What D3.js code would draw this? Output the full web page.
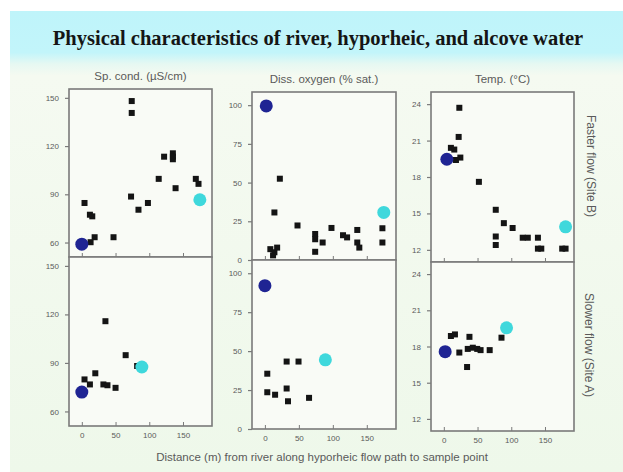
<!DOCTYPE html>
<html><head><meta charset="utf-8">
<script src="https://cdn.jsdelivr.net/npm/d3@7"></script>
<style>body{margin:0;background:#fff;}svg{display:block;}</style>
</head><body>
<svg id="c" width="623" height="472"></svg>
<script>
// ---- data ----
const title = "Physical characteristics of river, hyporheic, and alcove water";
const columnTitles = ["Sp. cond. (\u00b5S/cm)", "Diss. oxygen (% sat.)", "Temp. (\u00b0C)"];
const rowLabels = ["Faster flow (Site B)", "Slower flow (Site A)"];
const xTitle = "Distance (m) from river along hyporheic flow path to sample point";
const xTicks = [0, 50, 100, 150];
const yTicksCond = [60, 90, 120, 150];
const yTicksDO = [0, 25, 50, 75, 100];
const yTicksTemp = [12, 15, 18, 21, 24];

// Specific conductance, Site B (faster flow)
const condB_x = [13, 19, 47, 4, 12, 15.5, 74, 74, 73, 84, 98, 114, 122, 135, 135, 135, 139, 169, 173];
const condB_y = [60.2, 63.3, 63.3, 84.6, 77.3, 76.3, 148, 140.6, 88.6, 80.4, 84.6, 99.6, 113.4, 115.5, 113.4, 111.8, 93.8, 99.6, 96.5];
const condB_river = [0, 59];
const condB_alcove = [175, 86.6];
// Specific conductance, Site A (slower flow)
const condA_x = [4, 12, 20, 35, 32, 38, 50, 65, 82];
const condA_y = [79.8, 76.7, 83.6, 115.8, 76.7, 76.2, 74.6, 94.8, 88.1];
const condA_river = [0, 72];
const condA_alcove = [89, 87.5];
// Dissolved oxygen, Site B
const doB_x = [22, 14, 8, 14, 18, 12, 48, 74, 74, 85, 74, 98, 115, 121, 136, 136, 139, 173, 173];
const doB_y = [52.5, 30.7, 7, 5, 8, 3, 22.3, 16.8, 13.4, 11.3, 5.3, 20.7, 16, 14.6, 19.4, 11.3, 8, 20.5, 11.3];
const doB_river = [2, 99.5];
const doB_alcove = [175, 30.7];
// Dissolved oxygen, Site A
const doA_x = [3.5, 3.5, 15, 32, 49.5, 32, 34, 65];
const doA_y = [35.5, 23.6, 22, 43.3, 43.3, 26, 17.8, 20];
const doA_river = [0, 92];
const doA_alcove = [89, 44.4];
// Temperature, Site B
const tB_x = [10.5, 15.5, 18, 24.5, 22, 23, 52, 77, 77, 77, 89, 102, 117, 124.5, 139.5, 139.5, 144.5, 175.5, 180.5];
const tB_y = [20.4, 20.26, 19.4, 19.6, 21.3, 23.7, 17.6, 15.3, 13.1, 12.4, 14.2, 13.8, 13.0, 13.0, 13.0, 12.1, 12.1, 12.1, 12.1];
const tB_river = [4.5, 19.46];
const tB_alcove = [180.5, 13.9];
// Temperature, Site A
const tA_x = [10.5, 16.5, 23, 34.5, 38, 35.5, 43, 49.5, 54.5, 68, 85.5];
const tA_y = [18.87, 19.0, 17.5, 16.3, 18.8, 17.8, 17.9, 17.8, 17.7, 17.7, 18.73];
const tA_river = [2, 17.57];
const tA_alcove = [93, 19.55];

// ---- layout ----
const svg = d3.select("#c");
const defs = svg.append("defs");
const grad = defs.append("linearGradient").attr("id","bg").attr("x1",0).attr("y1",0).attr("x2",0).attr("y2",1);
grad.append("stop").attr("offset","0%").attr("stop-color","#bff4fa");
grad.append("stop").attr("offset","9%").attr("stop-color","#c2f5fa");
grad.append("stop").attr("offset","11.5%").attr("stop-color","#e6f8f2");
grad.append("stop").attr("offset","14%").attr("stop-color","#f5faf1");
grad.append("stop").attr("offset","100%").attr("stop-color","#eef8ea");
svg.append("rect").attr("x",10).attr("y",11).attr("width",613).attr("height",461).attr("fill","url(#bg)");

svg.append("text").attr("x",318).attr("y",45).attr("text-anchor","middle")
  .attr("font-family","'Liberation Serif','DejaVu Serif',serif").attr("font-weight","bold")
  .attr("font-size",20.5).attr("fill","#151515").text(title);

const cols = [
  {x0:69, x1:212, rows:[89,257,426], ticks:yTicksCond, ydom:[51,155.5],
   panels:[[condB_x,condB_y,condB_river,condB_alcove],[condA_x,condA_y,condA_river,condA_alcove]]},
  {x0:252, x1:396, rows:[92,260,429], ticks:yTicksDO, ydom:[0,108.5],
   panels:[[doB_x,doB_y,doB_river,doB_alcove],[doA_x,doA_y,doA_river,doA_alcove]]},
  {x0:431, x1:574, rows:[92,262,431], ticks:yTicksTemp, ydom:[11,25],
   panels:[[tB_x,tB_y,tB_river,tB_alcove],[tA_x,tA_y,tA_river,tA_alcove]]}
];
const axisCol = "#7a7a7a", textCol = "#5a5a5a";
const font = "'Liberation Sans',Arial,sans-serif";

cols.forEach((c, ci) => {
  const x = d3.scaleLinear().domain([-19, 193]).range([c.x0, c.x1]);
  svg.append("text").attr("x",(c.x0+c.x1)/2).attr("y",c.rows[0]-9).attr("text-anchor","middle")
    .attr("font-family",font).attr("font-size",11.5).attr("fill",textCol).text(columnTitles[ci]);
  for (let r = 0; r < 2; r++) {
    const top = c.rows[r], bot = c.rows[r+1];
    const y = d3.scaleLinear().domain(c.ydom).range([bot, top]);
    const g = svg.append("g");
    g.append("rect").attr("x",c.x0).attr("y",top).attr("width",c.x1-c.x0).attr("height",bot-top)
      .attr("fill","#f9fbf6").attr("stroke",axisCol).attr("stroke-width",1.6);
    // y axis
    const ya = g.append("g").attr("transform",`translate(${c.x0},0)`)
      .call(d3.axisLeft(y).tickValues(c.ticks).tickSize(4).tickPadding(6).tickFormat(d3.format("d")));
    ya.select(".domain").remove();
    ya.selectAll("line").attr("stroke",axisCol).attr("stroke-width",1.2);
    ya.selectAll("text").attr("font-family",font).attr("font-size",8).attr("fill",textCol);
    // x axis (inward ticks)
    const xa = g.append("g").attr("transform",`translate(0,${bot})`)
      .call(d3.axisBottom(x).tickValues(xTicks).tickSize(-4).tickPadding(6).tickFormat(d3.format("d")));
    xa.select(".domain").remove();
    xa.selectAll("line").attr("stroke",axisCol).attr("stroke-width",1);
    xa.selectAll("text").attr("font-family",font).attr("font-size",8).attr("fill",textCol)
      .attr("opacity", r === 1 ? 1 : 0);
    const [xs, ys, river, alcove] = c.panels[r];
    g.selectAll("rect.pt").data(xs.map((v,i)=>[v, ys[i]])).join("rect").attr("class","pt")
      .attr("x",d=>x(d[0])-3).attr("y",d=>y(d[1])-3).attr("width",6).attr("height",6)
      .attr("fill","#141414");
    g.append("circle").attr("cx",x(river[0])).attr("cy",y(river[1])).attr("r",6.5).attr("fill","#1f2493");
    g.append("circle").attr("cx",x(alcove[0])).attr("cy",y(alcove[1])).attr("r",6.5).attr("fill","#3fd8dc");
  }
});

// row labels (rotated)
[[587,166],[585,345]].forEach((p,i) => {
  svg.append("text").attr("transform",`translate(${p[0]},${p[1]}) rotate(90)`).attr("text-anchor","middle")
    .attr("font-family",font).attr("font-size",12).attr("fill",textCol).text(rowLabels[i]);
});
svg.append("text").attr("x",322).attr("y",461).attr("text-anchor","middle")
  .attr("font-family",font).attr("font-size",11.5).attr("fill",textCol).text(xTitle);
</script>
</body></html>
